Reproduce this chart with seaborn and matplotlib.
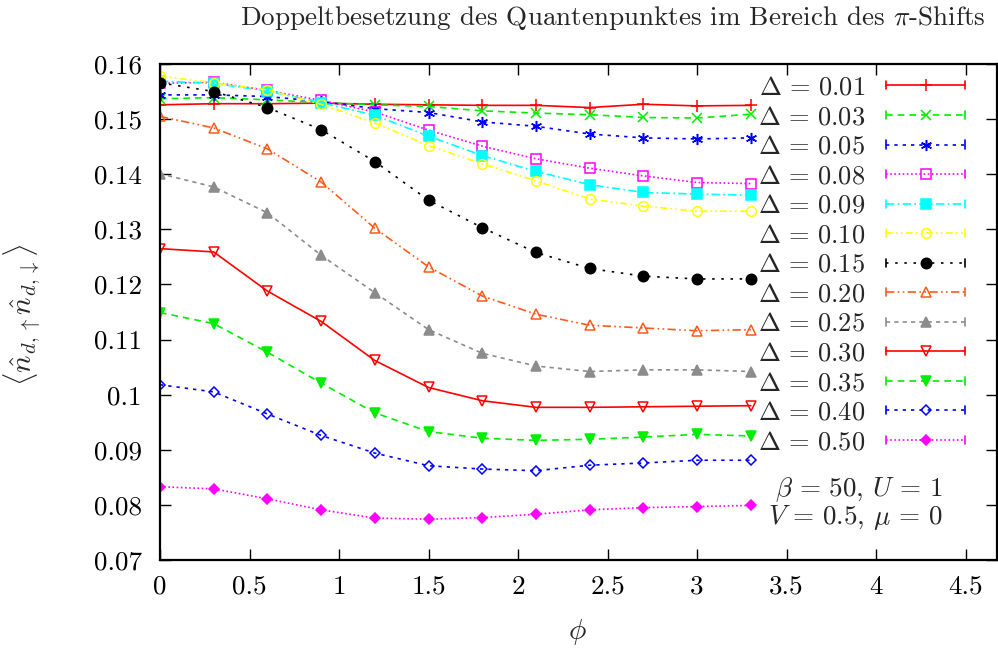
import numpy as np
import pandas as pd
import matplotlib
matplotlib.use("Agg")
import matplotlib.pyplot as plt
from matplotlib.legend_handler import HandlerLine2D
from matplotlib.lines import Line2D
import seaborn as sns

phi = [0.0, 0.3, 0.6, 0.9, 1.2, 1.5, 1.8, 2.1, 2.4, 2.7, 3.0, 3.3]

deltas = ["0.01", "0.03", "0.05", "0.08", "0.09", "0.10", "0.15",
          "0.20", "0.25", "0.30", "0.35", "0.40", "0.50"]

d001 = [0.1526, 0.1528, 0.1528, 0.1529, 0.1527, 0.1526, 0.1525, 0.1525, 0.1521, 0.1527, 0.1524, 0.1525]
d003 = [0.1537, 0.1539, 0.1535, 0.1530, 0.1526, 0.1523, 0.1515, 0.1511, 0.1508, 0.1503, 0.1502, 0.1509]
d005 = [0.1544, 0.1544, 0.1541, 0.1532, 0.1519, 0.1512, 0.1495, 0.1487, 0.1473, 0.1466, 0.1464, 0.1466]
d008 = [0.1565, 0.1567, 0.1552, 0.1534, 0.1513, 0.1480, 0.1451, 0.1428, 0.1411, 0.1397, 0.1385, 0.1383]
d009 = [0.1569, 0.1565, 0.1551, 0.1530, 0.1507, 0.1469, 0.1434, 0.1405, 0.1381, 0.1367, 0.1364, 0.1362]
d010 = [0.1578, 0.1566, 0.1553, 0.1527, 0.1493, 0.1452, 0.1419, 0.1388, 0.1355, 0.1342, 0.1333, 0.1333]
d015 = [0.1566, 0.1550, 0.1521, 0.1481, 0.1423, 0.1353, 0.1303, 0.1258, 0.1229, 0.1215, 0.1210, 0.1210]
d020 = [0.1505, 0.1484, 0.1446, 0.1386, 0.1302, 0.1232, 0.1179, 0.1146, 0.1126, 0.1121, 0.1116, 0.1118]
d025 = [0.1401, 0.1377, 0.1330, 0.1253, 0.1185, 0.1118, 0.1075, 0.1052, 0.1042, 0.1045, 0.1045, 0.1042]
d030 = [0.1265, 0.1259, 0.1188, 0.1133, 0.1062, 0.1013, 0.0989, 0.0977, 0.0977, 0.0978, 0.0979, 0.0980]
d035 = [0.1149, 0.1129, 0.1077, 0.1021, 0.0967, 0.0933, 0.0921, 0.0917, 0.0919, 0.0923, 0.0928, 0.0925]
d040 = [0.1018, 0.1005, 0.0965, 0.0926, 0.0894, 0.0871, 0.0865, 0.0862, 0.0872, 0.0876, 0.0881, 0.0881]
d050 = [0.0833, 0.0829, 0.0811, 0.0791, 0.0776, 0.0774, 0.0777, 0.0783, 0.0791, 0.0795, 0.0797, 0.0799]

series = [d001, d003, d005, d008, d009, d010, d015, d020, d025, d030, d035, d040, d050]

x_ticks = [0, 0.5, 1, 1.5, 2, 2.5, 3, 3.5, 4, 4.5]
x_tick_labels = ["0", "0.5", "1", "1.5", "2", "2.5", "3", "3.5", "4", "4.5"]
y_ticks = [0.07, 0.08, 0.09, 0.10, 0.11, 0.12, 0.13, 0.14, 0.15, 0.16]
y_tick_labels = ["0.07", "0.08", "0.09", "0.1", "0.11", "0.12", "0.13", "0.14", "0.15", "0.16"]

colors = ["#ff0000", "#00ee00", "#0000ff", "#ff00ff", "#00ffff", "#ffff00", "#000000",
          "#ff5a1a", "#8c8c8c", "#ff0000", "#00ee00", "#0000ff", "#ff00ff"]
linestyles = ["-", (0, (4, 3)), (0, (2, 3)), (0, (1, 1.5)), (0, (5, 2, 1, 2)),
              (0, (4, 2, 1, 2, 1, 2)), (0, (1.5, 4)), (0, (5, 2, 1, 2, 1, 2)),
              (0, (2.5, 2.5)), "-", (0, (4, 3)), (0, (2, 3)), (0, (1, 1.5))]
markers = ["+", "x", (6, 2, 0), "s", "s", "o", "o", "^", "^", "v", "v", "D", "D"]
filled = [True, True, True, False, True, False, True, False, True, False, True, False, True]
msizes = [8, 6.5, 8, 7, 7, 7, 7.5, 7, 6.5, 7, 6.5, 5.5, 5.5]


class CapHandler(HandlerLine2D):
    def create_artists(self, legend, orig_handle, xdescent, ydescent, width, height,
                       fontsize, trans):
        artists = super().create_artists(legend, orig_handle, xdescent, ydescent,
                                         width, height, fontsize, trans)
        ymid = (height - ydescent) / 2.0
        cap = height * 0.22
        for xx in (-xdescent, -xdescent + width):
            ln = Line2D([xx, xx], [ymid - cap, ymid + cap], color=orig_handle.get_color(),
                        linewidth=1.2)
            ln.set_transform(trans)
            artists.append(ln)
        return artists


sns.set_theme(style="ticks")
plt.rcParams["font.family"] = ["cmr10", "DejaVu Serif"]
plt.rcParams["mathtext.fontset"] = "cm"
plt.rcParams["axes.formatter.use_mathtext"] = True

fig = plt.figure(figsize=(9.98, 6.5), dpi=100)
ax = fig.add_axes([0.1603, 0.1385, 0.8387, 0.763])

rows = []
for d, vals in zip(deltas, series):
    for xv, yv in zip(phi, vals):
        rows.append({"phi": xv, "val": yv, "delta": d})
df = pd.DataFrame(rows)

for i, d in enumerate(deltas):
    sub = df[df["delta"] == d]
    kw = dict(color=colors[i], linestyle=linestyles[i], linewidth=1.2,
              marker=markers[i], markersize=msizes[i],
              markeredgecolor=colors[i], markeredgewidth=1.1)
    kw["markerfacecolor"] = colors[i] if filled[i] else "none"
    sns.lineplot(data=sub, x="phi", y="val", ax=ax,
                 label=r"$\Delta\,=\,%s$" % d, **kw)

ax.set_xlim(0, 4.675)
ax.set_ylim(0.07, 0.16)
ax.set_xticks(x_ticks)
ax.set_xticklabels(x_tick_labels)
ax.set_yticks(y_ticks)
ax.set_yticklabels(y_tick_labels)
ax.tick_params(direction="in", length=8, width=1, top=True, right=True,
               labelsize=19.5, colors="black")
ax.tick_params(axis="x", pad=11)
ax.tick_params(axis="y", pad=13)
for s in ax.spines.values():
    s.set_linewidth(1.6)
    s.set_color("black")
ax.set_xlabel("")
ax.set_ylabel("")

handles, labels = ax.get_legend_handles_labels()
leg = ax.legend(handles, labels, loc="upper right", markerfirst=False, frameon=False,
                fontsize=19, handlelength=3.0, handletextpad=0.8, labelspacing=0.22,
                borderaxespad=0.0, borderpad=0.0, bbox_to_anchor=(0.962, 0.976),
                handler_map={Line2D: CapHandler()})

ax.text(0.935, 0.141, r"$\beta\,=\,50$, $U\,=\,1$", transform=ax.transAxes,
        ha="right", va="center", fontsize=19.5)
ax.text(0.935, 0.085, r"$V\,=\,0.5$, $\mu\,=\,0$", transform=ax.transAxes,
        ha="right", va="center", fontsize=19.5)

fig.text(0.614, 0.972, r"Doppeltbesetzung des Quantenpunktes im Bereich des $\pi$-Shifts",
         ha="center", va="center", fontsize=19.5)
fig.text(0.579, 0.027, r"$\phi$", ha="center", va="center", fontsize=21)
fig.text(0.022, 0.515, r"$\langle \hat{n}_{d,\uparrow}\hat{n}_{d,\downarrow}\rangle$",
         ha="center", va="center", rotation=90, fontsize=21)

fig.savefig("out.png", dpi=100)
